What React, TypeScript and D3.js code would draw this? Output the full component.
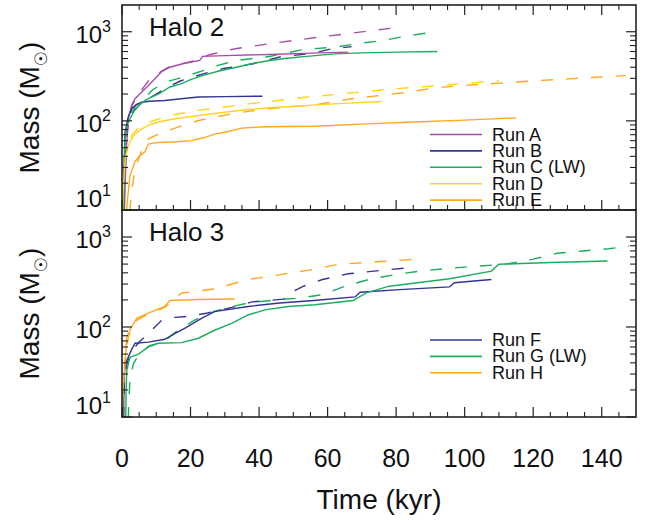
import React from "react";
import * as d3 from "d3";

// ---------- data (time in kyr, mass in Msun) ----------
const xTicks = [0, 20, 40, 60, 80, 100, 120, 140];
const yMajor = [10, 100, 1000];

// Halo 2
const runA: [number, number][] = [[0.5,5],[0.9,18],[1.3,50],[1.8,105],[2.8,150],[3.8,177],[5.7,210],[7.7,249],[9.6,296],[11.6,357],[14,400],[18,440],[22.7,476],[23.5,530],[30,540],[43,556],[55,575],[66,590]];
const runADash: [number, number][] = [[0.4,5],[0.8,20],[1.3,60],[2,100],[3,150],[4.5,190],[6.7,250],[8.2,296],[10,330],[12,370],[14,410],[20,460],[24,530],[27,570],[33,645],[43,733],[56,855],[66.5,960],[73,1030],[80,1110]];
const runB: [number, number][] = [[0.3,5],[0.6,30],[0.9,75],[1.8,110],[2.8,136],[4,150],[5.7,162],[8,166],[12.5,169],[18,178],[22.3,185],[30,187],[41,189]];
const runBDash: [number, number][] = [[0.3,5],[0.6,25],[1,70],[2,100],[3,125],[5,150],[7,170],[10,200],[13,235],[17,280],[23.7,337],[30,390],[38.3,437],[46,520],[55.8,575],[61,640],[67,680]];
const runC: [number, number][] = [[0.4,5],[0.7,30],[0.9,68],[1.5,90],[2.3,105],[3.5,128],[4.8,148],[6.7,169],[8.5,185],[10.6,200],[14,240],[17.4,262],[20,290],[23.7,324],[28,360],[33.4,400],[38,440],[43,476],[48,505],[54.8,533],[62,565],[70,580],[80,590],[92,600]];
const runCDash: [number, number][] = [[0.4,5],[0.7,30],[1,70],[2,105],[4,150],[6.7,180],[8.7,219],[12.5,272],[16,296],[20,330],[23.7,367],[28,420],[33.4,476],[43,527],[52.9,632],[62.6,675],[68.4,733],[76.2,798],[83,896],[91.7,1000]];
const runD: [number, number][] = [[0,5],[0.3,15],[0.9,37],[1.8,52],[2.8,63],[4,72],[5.7,81],[8,90],[10.6,97],[15,105],[22.3,115],[30,125],[36.8,134],[45,142],[52,146],[56.3,151],[66,158],[75.7,165]];
const runDDash: [number, number][] = [[0,5],[0.3,15],[0.8,35],[1.8,55],[3,70],[5,85],[7.7,96],[10.6,105],[15,117],[22.3,131],[30,143],[36.8,155],[45,168],[54,185],[63,199],[71,213],[78,227],[89,243],[96,256],[102,267],[110,281]];
const runE: [number, number][] = [[1,5],[1.5,12],[2.3,24],[3.8,35],[5,40],[6.7,45],[7.7,55],[10,57],[15,58],[20.3,60],[24,65],[27.1,71],[31,76],[34.9,83],[41.7,86],[56,87],[70,92],[85,97],[100,102],[115,108]];
const runEDash: [number, number][] = [[1.8,5],[2.5,12],[3.3,22],[4.8,37],[6,50],[7.7,63],[10.6,71],[15,82],[22.3,101],[32,120],[41.7,136],[50,145],[56.3,151],[67,177],[75,192],[82,207],[90,230],[98,249],[107,260],[114,272],[122,284],[130,296],[137,307],[147,322]];

// Halo 3
const runF: [number, number][] = [[0.3,5],[0.6,25],[0.9,39],[1.8,46],[2.8,56],[3.8,66],[7.7,68],[12.5,73],[15.5,85],[18.4,97],[23.2,125],[27,148],[36.8,169],[46,185],[56,197],[68,216],[69.5,243],[81,260],[95.6,279],[97,310],[107.8,337]];
const runFDash: [number, number][] = [[0.3,5],[0.7,25],[1.5,40],[3,55],[5,68],[6.7,78],[9.6,100],[11.5,118],[15.5,128],[19,131],[25,143],[32,165],[38,190],[47,204],[50,250],[53,284],[58.5,337],[66,390],[73.5,418],[84,456]];
const runG: [number, number][] = [[1,5],[1.2,20],[1.4,33],[2.3,46],[4.8,50],[7.7,60],[10.6,66],[17.4,67],[22.3,75],[27,92],[32,110],[36.8,136],[41.7,155],[48.5,169],[56.3,177],[67.4,197],[71.3,239],[78,284],[95.6,344],[107.8,418],[110,498],[125,520],[141.7,542]];
const runGDash: [number, number][] = [[1.6,5],[2,15],[2.3,25],[3.3,39],[5,50],[8,62],[12,68],[16,90],[21.3,120],[27,150],[32,168],[36.8,185],[45,200],[52,210],[58.5,229],[65,284],[72,337],[80,384],[87,418],[94.6,445],[101.5,468],[108,487],[112,500],[117,540],[120,567],[127,660],[134.5,700],[142,740],[148,790]];
const runH: [number, number][] = [[0,5],[0.3,20],[0.9,39],[1.4,78],[2.8,100],[4.3,125],[7.7,143],[12.5,169],[14,197],[22.3,202],[33,205]];
const runHDash: [number, number][] = [[0,5],[0.3,20],[0.9,45],[1.9,78],[3,100],[4.5,120],[7.7,140],[12.5,165],[15,200],[17.4,239],[22,250],[27,265],[36.8,337],[46.6,384],[56,437],[63,497],[71,520],[78.5,542],[87,570]];

const halo2Labels = ["Run A", "Run B", "Run C (LW)", "Run D", "Run E"];
const halo3Labels = ["Run F", "Run G (LW)", "Run H"];

const PURPLE = "#a94ca9";
const BLUE = "#343494";
const GREEN = "#1aae5c";
const YELLOW = "#ffd41e";
const ORANGE = "#ffa81f";

const halo2Series = [
  { solid: runA, dash: runADash, color: PURPLE },
  { solid: runB, dash: runBDash, color: BLUE },
  { solid: runC, dash: runCDash, color: GREEN },
  { solid: runD, dash: runDDash, color: YELLOW },
  { solid: runE, dash: runEDash, color: ORANGE },
];
const halo3Series = [
  { solid: runF, dash: runFDash, color: BLUE },
  { solid: runG, dash: runGDash, color: GREEN },
  { solid: runH, dash: runHDash, color: ORANGE },
];

// ---------- layout ----------
const W = 657, H = 520;
const X0 = 122, X1 = 636;
const FONT = "'Liberation Sans', Arial, Helvetica, sans-serif";
const AX = "#222";

const x = d3.scaleLinear().domain([0, 150]).range([X0, X1]);

function Panel({ top, bottom, title, series, labels, legendY, id, topTicks }: any) {
  const y = d3.scaleLog().domain([10, Math.pow(10, 3.3)]).range([bottom, top]);
  const line = d3.line<[number, number]>().x(d => x(d[0])).y(d => y(d[1]));
  const minorY: number[] = [];
  [10, 100, 1000].forEach(b => { for (let k = 2; k <= 9; k++) { const v = b * k; if (v < y.domain()[1]) minorY.push(v); } });
  const minorX: number[] = [];
  for (let v = 5; v < 150; v += 5) if (v % 20 !== 0) minorX.push(v);
  const legendStep = 16.4;
  return (
    <g>
      <defs>
        <clipPath id={id}><rect x={X0} y={top} width={X1 - X0} height={bottom - top} /></clipPath>
      </defs>
      <g clipPath={`url(#${id})`} fill="none" strokeWidth={1.4}>
        {series.map((s: any, i: number) => (
          <path key={"d" + i} d={line(s.dash) || ""} stroke={s.color} strokeDasharray="12,13" />
        ))}
        {series.map((s: any, i: number) => (
          <path key={"s" + i} d={line(s.solid) || ""} stroke={s.color} />
        ))}
      </g>
      {/* frame */}
      <rect x={X0} y={top} width={X1 - X0} height={bottom - top} fill="none" stroke={AX} strokeWidth={1.6} />
      {/* x ticks */}
      {xTicks.map(t => (
        <g key={"xt" + t}>
          <line x1={x(t)} x2={x(t)} y1={bottom} y2={bottom - 10} stroke={AX} strokeWidth={1.2} />
          {topTicks && <line x1={x(t)} x2={x(t)} y1={top} y2={top + 10} stroke={AX} strokeWidth={1.2} />}
        </g>
      ))}
      {minorX.map(t => (
        <g key={"xm" + t}>
          <line x1={x(t)} x2={x(t)} y1={bottom} y2={bottom - 5} stroke={AX} strokeWidth={1.1} />
          {topTicks && <line x1={x(t)} x2={x(t)} y1={top} y2={top + 5} stroke={AX} strokeWidth={1.1} />}
        </g>
      ))}
      {/* y ticks */}
      {yMajor.map(v => (
        <g key={"ym" + v}>
          <line x1={X0} x2={X0 + 10} y1={y(v)} y2={y(v)} stroke={AX} strokeWidth={1.2} />
          <line x1={X1} x2={X1 - 10} y1={y(v)} y2={y(v)} stroke={AX} strokeWidth={1.2} />
        </g>
      ))}
      {minorY.map(v => (
        <g key={"yn" + v}>
          <line x1={X0} x2={X0 + 6} y1={y(v)} y2={y(v)} stroke={AX} strokeWidth={1.1} />
          <line x1={X1} x2={X1 - 6} y1={y(v)} y2={y(v)} stroke={AX} strokeWidth={1.1} />
        </g>
      ))}
      {/* y tick labels */}
      {yMajor.map(v => {
        const c = Math.min(y(v), bottom - 14);
        return (
          <text key={"yl" + v} x={111} y={c + 11} textAnchor="end" fontFamily={FONT} fontSize={24} fill="#111">
            10<tspan fontSize={16} dy={-11}>{Math.round(Math.log10(v))}</tspan>
          </text>
        );
      })}
      {/* panel title */}
      <text x={149} y={top + 31} fontFamily={FONT} fontSize={26} fill="#111">{title}</text>
      {/* y axis title */}
      <text transform={`translate(39,${(top + bottom) / 2}) rotate(-90)`} textAnchor="middle" fontFamily={FONT} fontSize={28} fill="#111">
        Mass (M<tspan fontFamily="'DejaVu Sans'" fontSize={17} dy={8}>☉</tspan><tspan dy={-8}>)</tspan>
      </text>
      {/* legend */}
      {labels.map((lab: string, i: number) => (
        <g key={"lg" + i}>
          <line x1={430} x2={482} y1={legendY + i * legendStep} y2={legendY + i * legendStep} stroke={series[i].color} strokeWidth={1.6} />
          <text x={492} y={legendY + i * legendStep + 6} fontFamily={FONT} fontSize={18} fill="#111">{lab}</text>
        </g>
      ))}
    </g>
  );
}

export default function App() {
  return (
    <svg width={W} height={H} style={{ position: "absolute", left: 0, top: 0, background: "#fff" }}>
      <rect x={0} y={0} width={W} height={H} fill="#fff" />
      <Panel id="c2" top={5} bottom={210} title="Halo 2" series={halo2Series} labels={halo2Labels} legendY={134.5} topTicks={true} />
      <Panel id="c3" top={210} bottom={417} title="Halo 3" series={halo3Series} labels={halo3Labels} legendY={340} topTicks={false} />
      {xTicks.map(t => (
        <text key={"xl" + t} x={x(t)} y={467} textAnchor="middle" fontFamily={FONT} fontSize={25} fill="#111">{t}</text>
      ))}
      <text x={(X0 + X1) / 2} y={509} textAnchor="middle" fontFamily={FONT} fontSize={28} fill="#111">Time (kyr)</text>
    </svg>
  );
}
